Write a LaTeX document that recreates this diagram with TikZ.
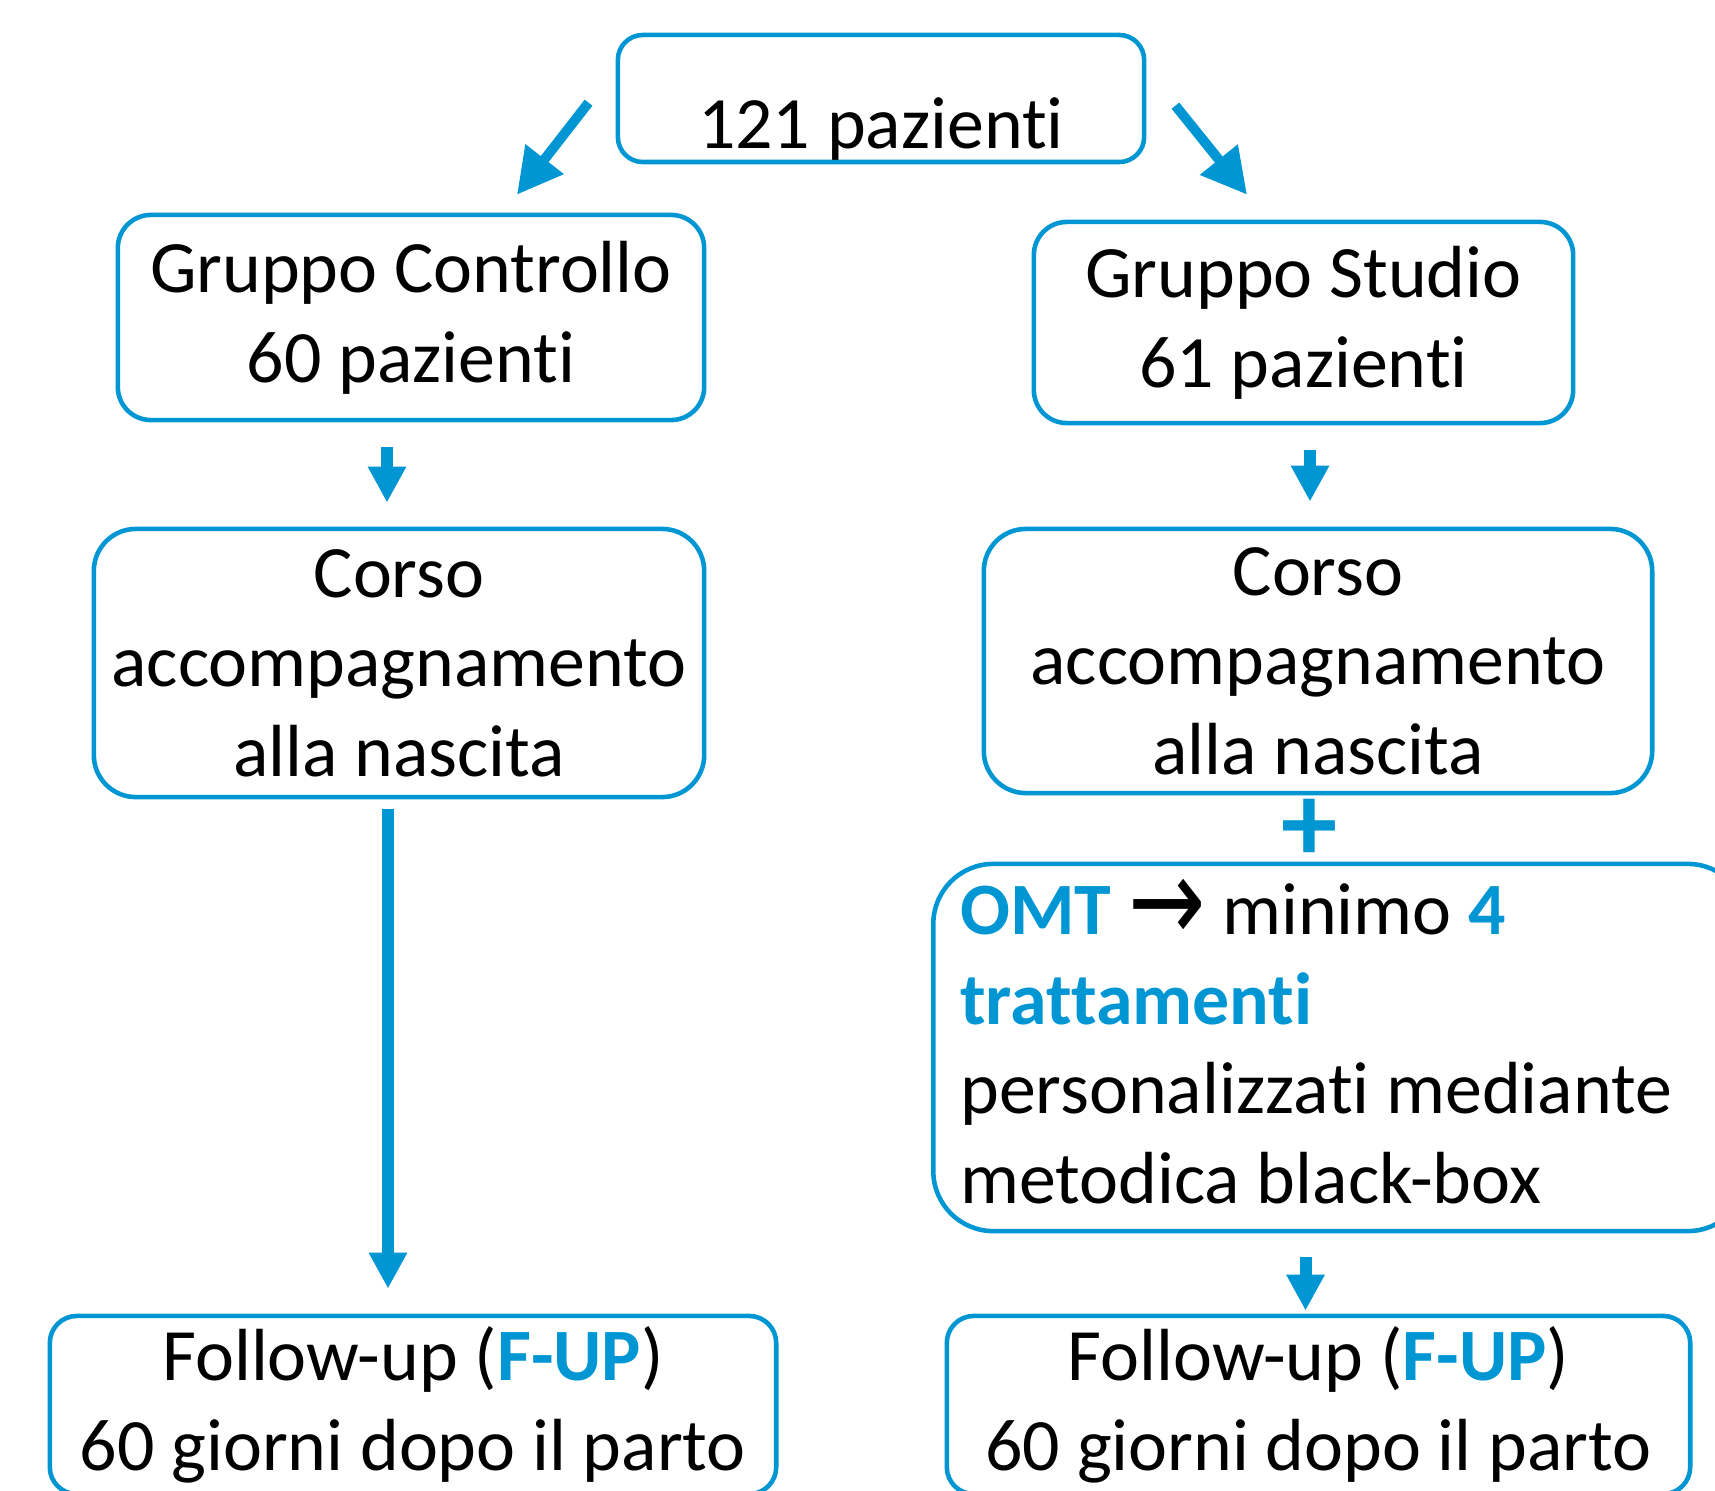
\documentclass[tikz,border=0pt]{standalone}
\usepackage{fontspec}
\setmainfont[Ligatures={NoCommon}]{Carlito}
\newfontfamily\symfont{DejaVu Sans}
\usepackage{xcolor}
\usetikzlibrary{arrows.meta, positioning, calc}
\definecolor{flowblue}{RGB}{0, 150, 212}
\newcommand{\blu}[1]{\textcolor{flowblue}{\textbf{#1}}}

\tikzset{
    box/.style={draw=flowblue, line width=1.3pt, rounded corners=0.33cm, inner sep=0pt, align=center, font=\fontsize{21}{25.5}\selectfont},
    downarrow/.style={flowblue, line width=3.4pt, -{Triangle[length=0.36cm, width=0.36cm]}},
    diagarrow/.style={flowblue, line width=2.8pt, -{Triangle[length=0.45cm, width=0.46cm]}}
}

\begin{document}
\begin{tikzpicture}[x=0.01cm, y=-0.01cm]
    \clip (0,0) rectangle (1715,1491);

    % Total
    \node[box, rounded corners=0.25cm, minimum width=5.26cm, text height=1.13cm, text depth=0.14cm] (total) at (881,98.5) {121 pazienti};

    % Groups
    \node[box, minimum width=5.86cm, minimum height=2.05cm] (ctrl) at (411,317.5) {Gruppo Controllo\\60 pazienti};
    \node[box, minimum width=5.39cm, minimum height=2.01cm] (studio) at (1303.5,322.5) {Gruppo Studio\\61 pazienti};

    % Courses
    \node[box, rounded corners=0.42cm, minimum width=6.10cm, minimum height=2.68cm] (corsoL) at (399,663) {Corso\\accompagnamento\\alla nascita};
    \node[box, rounded corners=0.42cm, minimum width=6.68cm, minimum height=2.64cm] (corsoR) at (1318,661) {Corso\\accompagnamento\\alla nascita};
    \node[text=flowblue, font=\fontsize{32}{32}\selectfont\bfseries, inner sep=0pt] (plus) at (1310,830) {+};

    % Treatment
    \node[box, rounded corners=0.6cm, anchor=west, align=flush left, text width=7.6cm, inner xsep=0.27cm, minimum height=3.67cm] (omt) at (931,1047.5) {\blu{OMT} {\symfont\raisebox{-0.1em}{\scalebox{1.25}[1.6]{→}}} minimo \blu{4}\\\blu{trattamenti}\\personalizzati mediante\\metodica black-box\rule[-0.12cm]{0pt}{0pt}};

    % Follow-up
    \node[box, rounded corners=0.27cm, minimum width=7.26cm, minimum height=1.78cm] (fupL) at (413,1405) {Follow-up (\blu{F-UP})\\60 giorni dopo il parto};
    \node[box, rounded corners=0.27cm, minimum width=7.43cm, minimum height=1.78cm] (fupR) at (1318.5,1405) {Follow-up (\blu{F-UP})\\60 giorni dopo il parto};

    % Connections
    \draw[diagarrow] ([shift={(-27,70)}]total.north west) -- ([shift={(106,-18)}]ctrl.north);
    \draw[diagarrow] ([shift={(29,73)}]total.north east) -- ([shift={(-56.5,-25)}]studio.north);
    \draw[downarrow, shorten <=0.25cm, shorten >=0.24cm] ($(ctrl.south)+(-24,0)$) -- ($(ctrl.south |- corsoL.north)+(-24,0)$);
    \draw[downarrow, shorten <=0.25cm, shorten >=0.25cm] ($(studio.south)+(6.5,0)$) -- ($(studio.south |- corsoR.north)+(6.5,0)$);
    \draw[downarrow, shorten <=0.10cm, shorten >=0.25cm] ($(corsoL.south)+(-11,0)$) -- ($(corsoL.south |- fupL.north)+(-11,0)$);
    \draw[downarrow, shorten <=0.24cm, shorten >=0.03cm] ($(omt.south)+(-35,0)$) -- ($(omt.south |- fupR.north)+(-35,0)$);

\end{tikzpicture}
\end{document}
